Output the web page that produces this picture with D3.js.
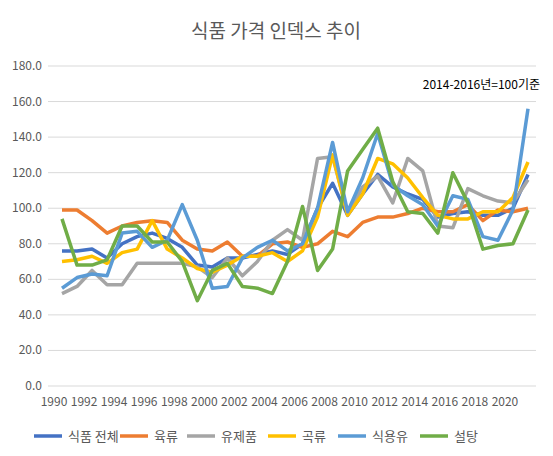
<!DOCTYPE html>
<html><head><meta charset="utf-8">
<script src="https://cdn.jsdelivr.net/npm/d3@7"></script>
<style>body{margin:0;background:#fff;font-family:"Noto Sans CJK KR","Noto Sans",sans-serif;}</style>
</head><body><svg id="c" width="553" height="456"></svg>
<script>
const years = d3.range(1990, 2022);
const yTicks = [0, 20, 40, 60, 80, 100, 120, 140, 160, 180];
const seriesNames = ["식품 전체", "육류", "유제품", "곡류", "식용유", "설탕"];
const colors = ["#4472c4", "#ed7d31", "#a5a5a5", "#ffc000", "#5b9bd5", "#70ad47"];
const total = [76,76,77,72,80,84,86,83,78,68,67,72,72,74,76,74,80,100,114,96,108,119,112,108,105,95,97,98,96,96,100,119];
const meat = [99,99,93,86,90,92,93,92,82,77,76,81,73,73,80,81,78,80,87,84,92,95,95,97,100,98,98,102,93,99,98,100];
const dairy = [52,56,65,57,57,69,69,69,69,67,61,72,62,70,82,88,82,128,129,97,112,118,103,128,121,90,89,111,107,104,103,116];
const grain = [70,71,73,69,75,77,93,77,72,66,64,68,73,73,75,70,76,95,130,96,108,128,125,117,106,96,94,94,98,98,106,126];
const oil = [55,61,63,62,86,87,78,82,102,82,55,56,72,78,82,76,80,100,137,98,117,142,113,107,102,90,107,105,84,82,99,156];
const sugar = [94,68,68,71,90,90,81,81,70,48,65,69,56,55,52,70,101,65,77,121,133,145,115,98,97,86,120,103,77,79,80,99];
const series = [total, meat, dairy, grain, oil, sugar];

const svg = d3.select("#c");
const x = d3.scalePoint().domain(years).range([62, 528]);
const y = d3.scaleLinear().domain([0, 180]).range([386, 66]);

svg.append("text").attr("x", 276).attr("y", 38).attr("text-anchor", "middle")
  .attr("font-size", 19).attr("fill", "#595959").text("식품 가격 인덱스 추이");

svg.append("g").selectAll("line").data(yTicks).join("line")
  .attr("x1", 48).attr("x2", 536).attr("y1", d => y(d)).attr("y2", d => y(d))
  .attr("stroke", "#d9d9d9").attr("stroke-width", 1);

svg.append("g").selectAll("text").data(yTicks).join("text")
  .attr("x", 42).attr("y", d => y(d) + 4).attr("text-anchor", "end")
  .attr("font-size", 12).attr("fill", "#595959").text(d => d.toFixed(1));

svg.append("g").selectAll("text").data(years.filter(d => d % 2 === 0)).join("text")
  .attr("x", d => x(d) - 8).attr("y", 406).attr("text-anchor", "middle")
  .attr("font-size", 12).attr("fill", "#595959").text(d => d);

const line = d3.line().x((d, i) => x(years[i])).y(d => y(d));
svg.append("g").selectAll("path").data(series).join("path")
  .attr("d", line).attr("fill", "none")
  .attr("stroke", (d, i) => colors[i]).attr("stroke-width", 3.5)
  .attr("stroke-linejoin", "round");

svg.append("text").attr("x", 540).attr("y", 89).attr("text-anchor", "end")
  .attr("font-size", 12).attr("fill", "#000").text("2014-2016년=100기준");

const legX = [34, 120, 187, 268, 338, 420];
const leg = svg.append("g").selectAll("g").data(seriesNames).join("g")
  .attr("transform", (d, i) => `translate(${legX[i]},436)`);
leg.append("line").attr("x1", 0).attr("x2", 28).attr("stroke", (d, i) => colors[i]).attr("stroke-width", 3.5);
leg.append("text").attr("x", 34).attr("y", 5).attr("font-size", 13).attr("fill", "#595959").text(d => d);
</script></body></html>
